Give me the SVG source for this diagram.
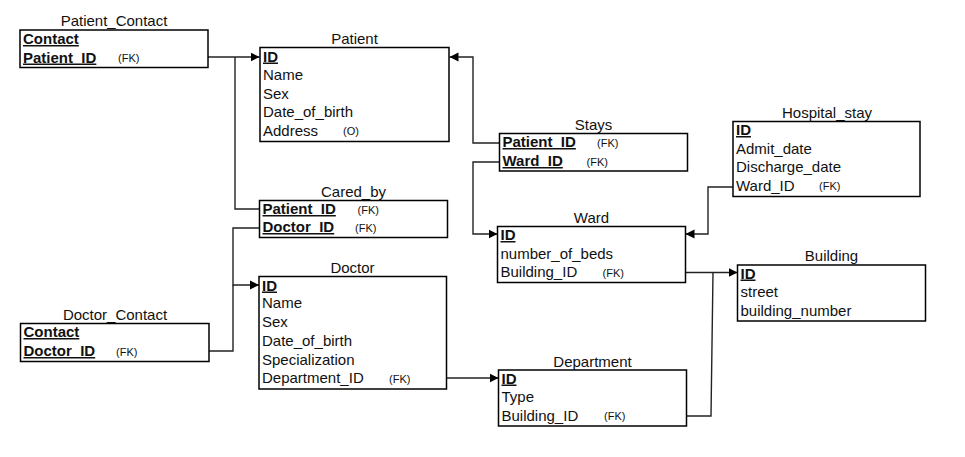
<svg xmlns="http://www.w3.org/2000/svg" width="965" height="457" viewBox="0 0 965 457">
<defs>
<style>
text{font-family:"Liberation Sans",Arial,sans-serif;fill:#111}
.t{font-size:15px;text-anchor:middle}
.r{font-size:15px}
.k{font-size:15px;font-weight:bold;text-decoration:underline}
.fk{font-size:11px}
.box{fill:#fff;stroke:#000;stroke-width:1.5}
.ln{fill:none;stroke:#222;stroke-width:1.4}
</style>
<marker id="arr" viewBox="0 0 10 10" refX="10" refY="5" markerWidth="9" markerHeight="11" markerUnits="userSpaceOnUse" orient="auto">
<path d="M0,0 L10,5 L0,10 z" fill="#000"/>
</marker>
</defs>
<rect width="965" height="457" fill="#fff"/>

<g id="connectors">
<path class="ln" d="M208,57 H259.5" marker-end="url(#arr)"/>
<path class="ln" d="M259.5,209 H235 V57"/>
<path class="ln" d="M499.5,143 H473 V57 H449.5" marker-end="url(#arr)"/>
<path class="ln" d="M499.5,162 H473 V234 H497.5" marker-end="url(#arr)"/>
<path class="ln" d="M733,187 H708 V234 H685.5" marker-end="url(#arr)"/>
<path class="ln" d="M685.5,272.5 H737.5" marker-end="url(#arr)"/>
<path class="ln" d="M686.5,416 H711 L713,272.5"/>
<path class="ln" d="M259.5,228 H233 V285 H259" marker-end="url(#arr)"/>
<path class="ln" d="M209,351 H233 V285"/>
<path class="ln" d="M446.5,378 H498.5" marker-end="url(#arr)"/>
</g>

<g id="Patient_Contact">
<text class="t" x="114" y="26">Patient_Contact</text>
<rect class="box" x="20" y="30" width="188" height="37.5"/>
<text class="k" x="23" y="44">Contact</text>
<text class="k" x="23" y="62.5">Patient_ID</text>
<text class="fk" x="118" y="62">(FK)</text>
</g>

<g id="Patient">
<text class="t" x="354.5" y="43.5">Patient</text>
<rect class="box" x="260" y="47.5" width="189" height="94"/>
<text class="k" x="263" y="61.5">ID</text>
<text class="r" x="263" y="80">Name</text>
<text class="r" x="263" y="98.5">Sex</text>
<text class="r" x="263" y="117">Date_of_birth</text>
<text class="r" x="263" y="135.5">Address</text>
<text class="fk" x="343" y="135">(O)</text>
</g>

<g id="Stays">
<text class="t" x="593.5" y="129.5">Stays</text>
<rect class="box" x="499.5" y="133.5" width="188" height="37.5"/>
<text class="k" x="502.5" y="147">Patient_ID</text>
<text class="fk" x="597" y="146.5">(FK)</text>
<text class="k" x="502.5" y="166">Ward_ID</text>
<text class="fk" x="586.5" y="165.5">(FK)</text>
</g>

<g id="Hospital_stay">
<text class="t" x="827" y="117.5">Hospital_stay</text>
<rect class="box" x="733" y="121.5" width="187" height="75"/>
<text class="k" x="736" y="135">ID</text>
<text class="r" x="736" y="153.5">Admit_date</text>
<text class="r" x="736" y="172">Discharge_date</text>
<text class="r" x="736" y="190.5">Ward_ID</text>
<text class="fk" x="819" y="190">(FK)</text>
</g>

<g id="Cared_by">
<text class="t" x="353.5" y="196.5">Cared_by</text>
<rect class="box" x="259.5" y="200.5" width="188" height="37"/>
<text class="k" x="262.5" y="214">Patient_ID</text>
<text class="fk" x="357.5" y="213.5">(FK)</text>
<text class="k" x="262.5" y="232">Doctor_ID</text>
<text class="fk" x="355" y="231.5">(FK)</text>
</g>

<g id="Ward">
<text class="t" x="591.5" y="222.5">Ward</text>
<rect class="box" x="497.5" y="226.5" width="188" height="56"/>
<text class="k" x="500.5" y="240">ID</text>
<text class="r" x="500.5" y="258.5">number_of_beds</text>
<text class="r" x="500.5" y="277">Building_ID</text>
<text class="fk" x="602.5" y="276.5">(FK)</text>
</g>

<g id="Building">
<text class="t" x="831.5" y="261">Building</text>
<rect class="box" x="737.5" y="265" width="188" height="56"/>
<text class="k" x="740.5" y="278.5">ID</text>
<text class="r" x="740.5" y="297">street</text>
<text class="r" x="740.5" y="315.5">building_number</text>
</g>

<g id="Doctor_Contact">
<text class="t" x="115" y="320">Doctor_Contact</text>
<rect class="box" x="20.5" y="323.5" width="188.5" height="38"/>
<text class="k" x="23.5" y="337">Contact</text>
<text class="k" x="23.5" y="356">Doctor_ID</text>
<text class="fk" x="116" y="355.5">(FK)</text>
</g>

<g id="Doctor">
<text class="t" x="352.5" y="273">Doctor</text>
<rect class="box" x="259" y="276.5" width="187.5" height="112.5"/>
<text class="k" x="262" y="290.5">ID</text>
<text class="r" x="262" y="307.5">Name</text>
<text class="r" x="262" y="326.5">Sex</text>
<text class="r" x="262" y="345.5">Date_of_birth</text>
<text class="r" x="262" y="364.5">Specialization</text>
<text class="r" x="262" y="383">Department_ID</text>
<text class="fk" x="389" y="382.5">(FK)</text>
</g>

<g id="Department">
<text class="t" x="592.5" y="366.5">Department</text>
<rect class="box" x="498.5" y="370" width="188" height="56"/>
<text class="k" x="501.5" y="383.5">ID</text>
<text class="r" x="501.5" y="402">Type</text>
<text class="r" x="501.5" y="420.5">Building_ID</text>
<text class="fk" x="604" y="420">(FK)</text>
</g>
</svg>
